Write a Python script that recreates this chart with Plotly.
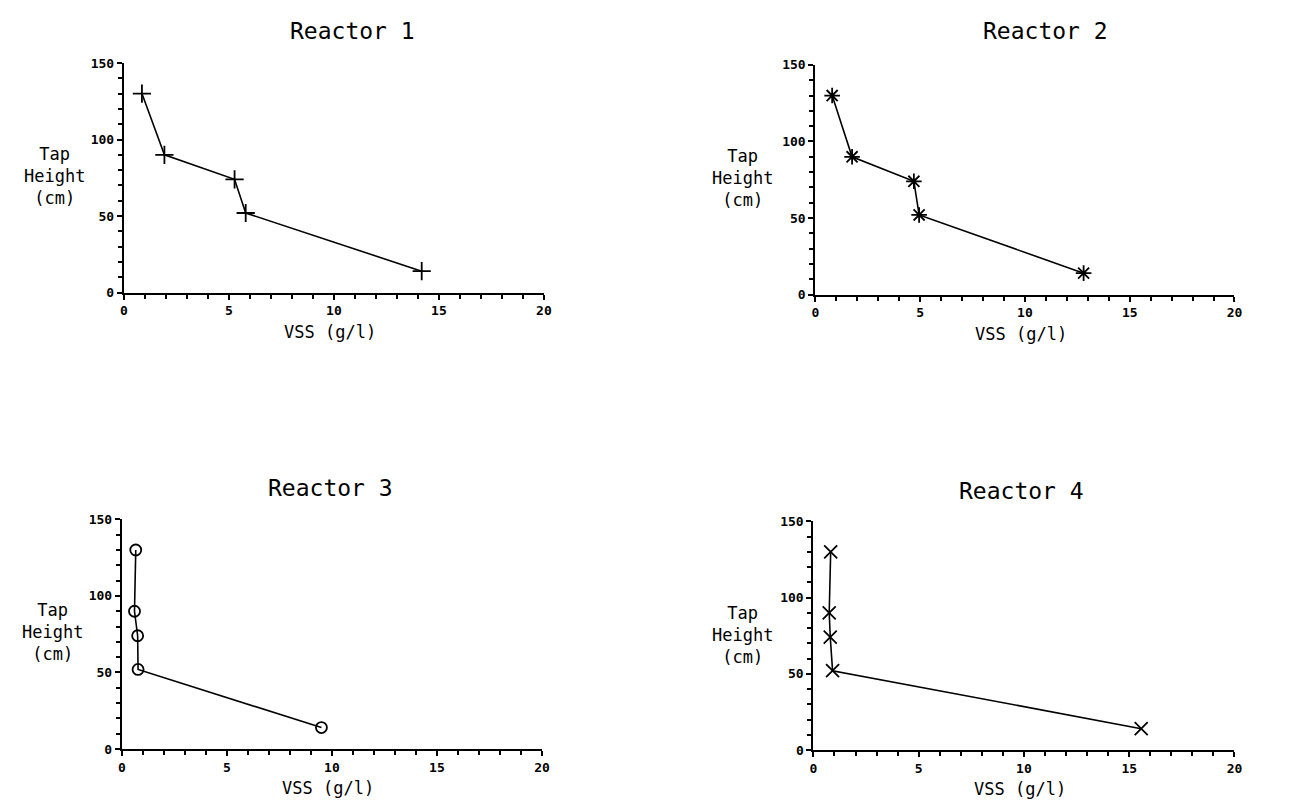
import plotly.graph_objects as go

W, H = 1293, 812

tap_height = [130, 90, 74, 52, 14]
vss_r1 = [0.86, 1.93, 5.27, 5.8, 14.18]
vss_r2 = [0.8, 1.75, 4.7, 4.95, 12.8]
vss_r3 = [0.66, 0.6, 0.75, 0.77, 9.5]
vss_r4 = [0.82, 0.75, 0.8, 0.91, 15.57]
titles = ["Reactor 1", "Reactor 2", "Reactor 3", "Reactor 4"]
symbols = ["cross-thin-open", "asterisk-open", "circle-open", "x-thin-open"]
x_ticks = [0, 5, 10, 15, 20]
y_ticks = [0, 50, 100, 150]

series = [vss_r1, vss_r2, vss_r3, vss_r4]

# plot-area pixel boxes (left, right, top, bottom)
boxes = [(121, 545, 57, 291), (819, 1242, 59, 293),
         (119, 543, 522, 756), (817, 1242, 524, 757)]
title_pos = [(352, 24), (1051, 24), (330, 490), (1027, 493)]
ylab_pos = [(51, 172), (745, 174), (49, 637), (745, 640)]

FONT = "DejaVu Sans Mono"
fig = go.Figure()
annotations = []
for i, (xs, box) in enumerate(zip(series, boxes)):
    n = "" if i == 0 else str(i + 1)
    l, r, t, b = box
    fig.add_trace(go.Scatter(
        x=xs, y=tap_height, mode="lines+markers",
        xaxis="x" + n, yaxis="y" + n,
        line=dict(color="black", width=1.6),
        marker=dict(symbol=symbols[i], size=13 if i != 2 else 11,
                    color="black", line=dict(color="black", width=1.8)),
        cliponaxis=False, showlegend=False,
    ))
    common = dict(showgrid=False, zeroline=False, showline=True,
                  linecolor="black", linewidth=2.2, ticks="outside",
                  ticklen=5, tickwidth=1.8, tickcolor="black",
                  tickfont=dict(family=FONT, size=13, color="black",
                                weight="bold"),
                  fixedrange=True)
    fig.update_layout(**{
        "xaxis" + n: dict(domain=[l / W, r / W], range=[0, 20],
                          tickvals=x_ticks, anchor="y" + n,
                          minor=dict(dtick=1, ticks="outside", ticklen=4,
                                     tickwidth=1.5, tickcolor="black"),
                          **common),
        "yaxis" + n: dict(domain=[1 - b / H, 1 - t / H], range=[0, 150],
                          tickvals=y_ticks, anchor="x" + n,
                          minor=dict(dtick=10, ticks="outside", ticklen=4,
                                     tickwidth=1.5, tickcolor="black"),
                          **common),
    })
    tx, ty = title_pos[i]
    annotations.append(dict(text=titles[i], x=tx / W, y=1 - ty / H,
                            xref="paper", yref="paper", showarrow=False,
                            xanchor="center", yanchor="middle",
                            font=dict(family=FONT, size=23, color="black")))
    lx, ly = ylab_pos[i]
    annotations.append(dict(text="Tap<br>Height<br>(cm)", x=lx / W,
                            y=1 - ly / H, xref="paper", yref="paper",
                            showarrow=False, xanchor="center",
                            yanchor="middle", align="center",
                            font=dict(family=FONT, size=17, color="black")))
    annotations.append(dict(text="VSS (g/l)", x=(l + r) / 2 / W - 4 / W,
                            y=1 - (b + 40) / H, xref="paper", yref="paper",
                            showarrow=False, xanchor="center",
                            yanchor="middle",
                            font=dict(family=FONT, size=17, color="black")))

fig.update_layout(width=W, height=H, margin=dict(l=0, r=0, t=0, b=0),
                  paper_bgcolor="white", plot_bgcolor="white",
                  annotations=annotations)
fig.write_html("out.html")
